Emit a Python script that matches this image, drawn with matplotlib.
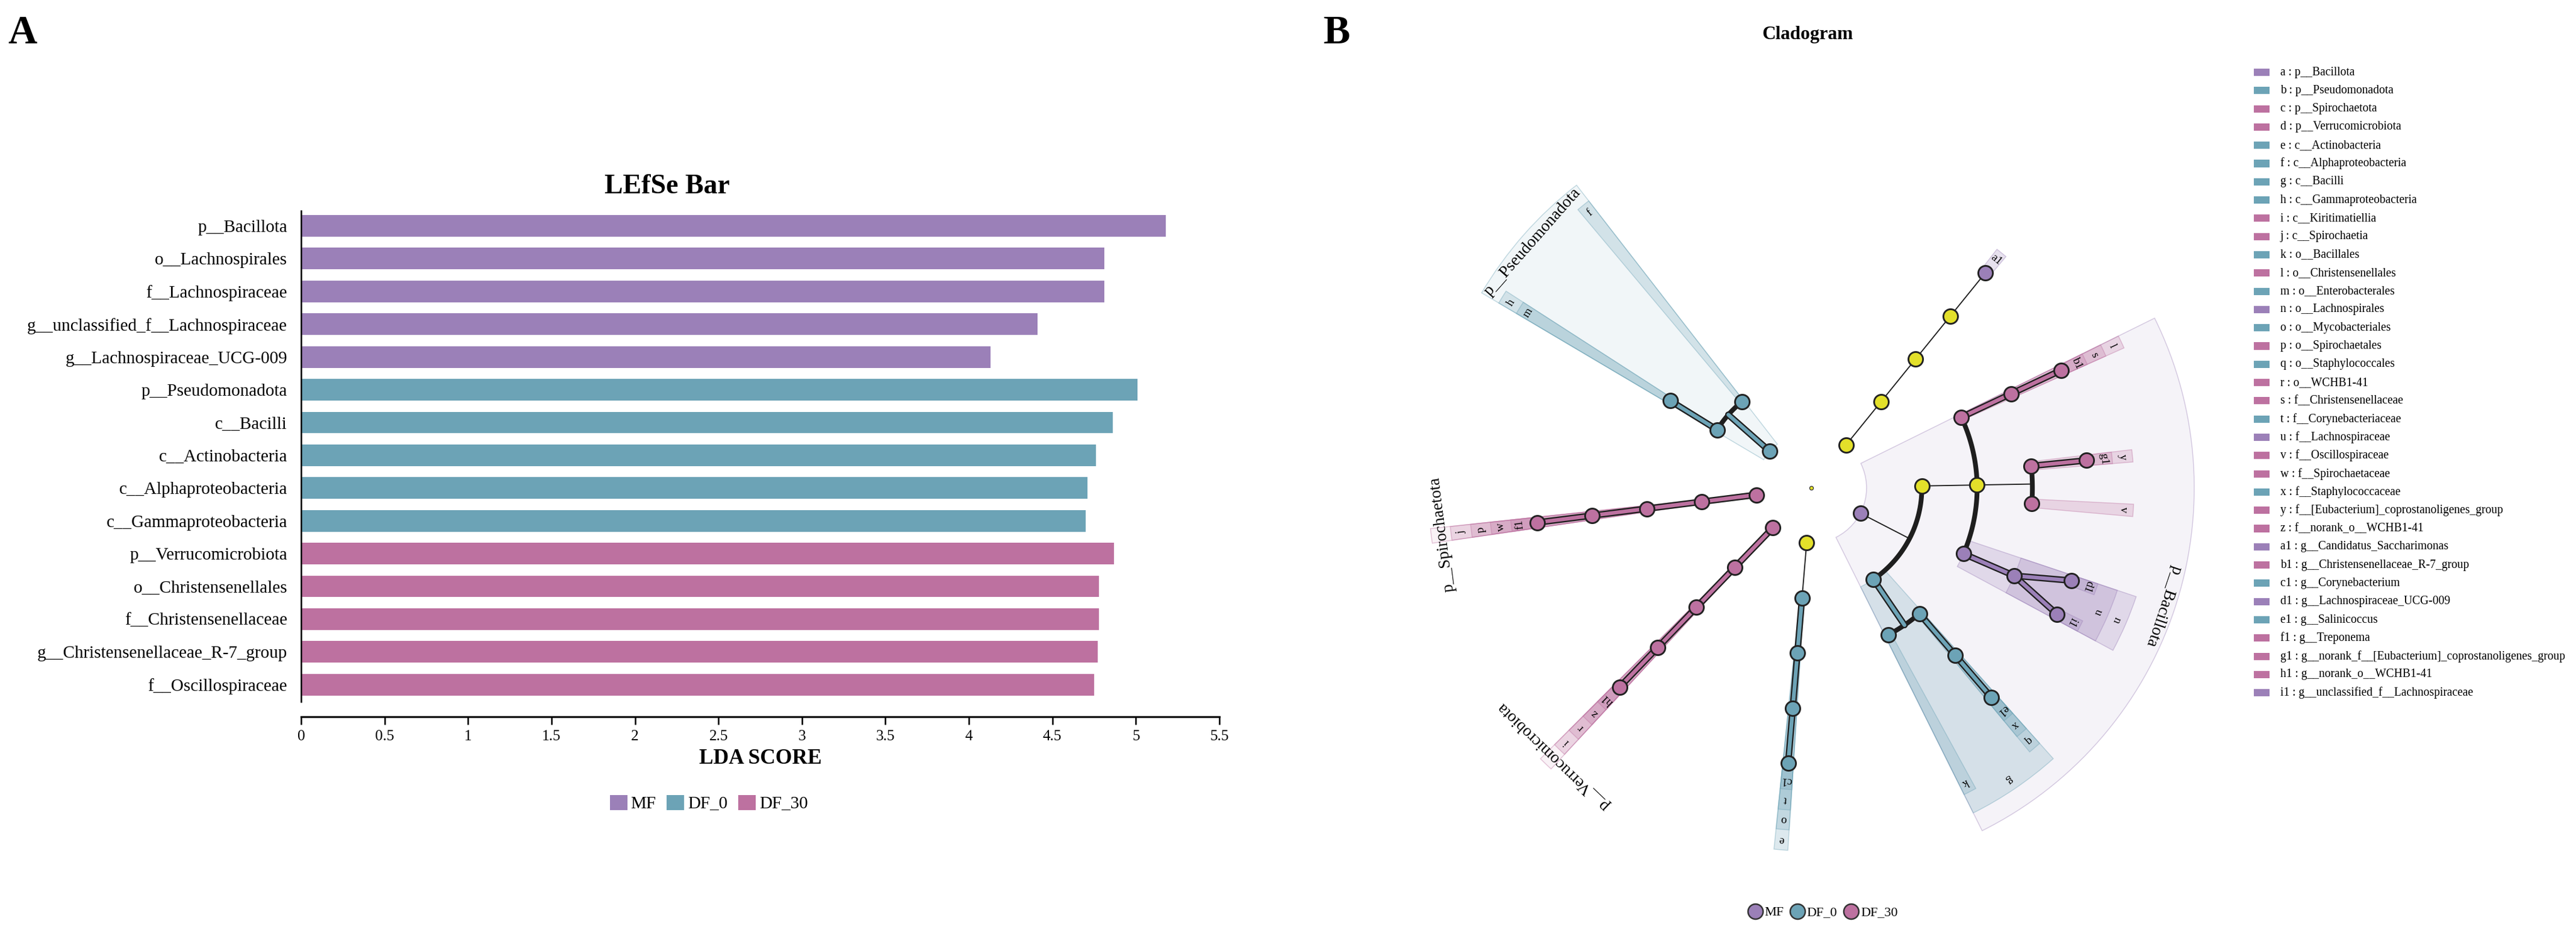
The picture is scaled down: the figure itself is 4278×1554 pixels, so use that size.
import numpy as np
import matplotlib
matplotlib.use("Agg")
import matplotlib.pyplot as plt
from matplotlib.patches import Patch
from matplotlib.lines import Line2D

plt.rcParams['font.family'] = ['Liberation Serif', 'DejaVu Serif']

# ---------------- data ----------------
groups = ['MF', 'DF_0', 'DF_30']
group_colors = {'MF': '#9B80B8', 'DF_0': '#6CA3B6', 'DF_30': '#BD71A0'}
YELLOW = '#E3E02A'
EDGE = '#1E1E1E'

bar_labels = ['p__Bacillota', 'o__Lachnospirales', 'f__Lachnospiraceae',
              'g__unclassified_f__Lachnospiraceae', 'g__Lachnospiraceae_UCG-009',
              'p__Pseudomonadota', 'c__Bacilli', 'c__Actinobacteria',
              'c__Alphaproteobacteria', 'c__Gammaproteobacteria',
              'p__Verrucomicrobiota', 'o__Christensenellales', 'f__Christensenellaceae',
              'g__Christensenellaceae_R-7_group', 'f__Oscillospiraceae']
bar_values = [5.18, 4.81, 4.81, 4.41, 4.13,
              5.01, 4.86, 4.76, 4.71, 4.70,
              4.87, 4.78, 4.78, 4.77, 4.75]
bar_groups = ['MF'] * 5 + ['DF_0'] * 5 + ['DF_30'] * 5
x_ticks = [0, 0.5, 1, 1.5, 2, 2.5, 3, 3.5, 4, 4.5, 5, 5.5]
x_tick_labels = ['0', '0.5', '1', '1.5', '2', '2.5', '3', '3.5', '4', '4.5', '5', '5.5']

# cladogram legend (letter : taxon, group)
clad_letters = ['a', 'b', 'c', 'd', 'e', 'f', 'g', 'h', 'i', 'j', 'k', 'l', 'm', 'n', 'o',
                'p', 'q', 'r', 's', 't', 'u', 'v', 'w', 'x', 'y', 'z',
                'a1', 'b1', 'c1', 'd1', 'e1', 'f1', 'g1', 'h1', 'i1']
clad_taxa = ['p__Bacillota', 'p__Pseudomonadota', 'p__Spirochaetota', 'p__Verrucomicrobiota',
             'c__Actinobacteria', 'c__Alphaproteobacteria', 'c__Bacilli', 'c__Gammaproteobacteria',
             'c__Kiritimatiellia', 'c__Spirochaetia', 'o__Bacillales', 'o__Christensenellales',
             'o__Enterobacterales', 'o__Lachnospirales', 'o__Mycobacteriales', 'o__Spirochaetales',
             'o__Staphylococcales', 'o__WCHB1-41', 'f__Christensenellaceae', 'f__Corynebacteriaceae',
             'f__Lachnospiraceae', 'f__Oscillospiraceae', 'f__Spirochaetaceae', 'f__Staphylococcaceae',
             'f__[Eubacterium]_coprostanoligenes_group', 'f__norank_o__WCHB1-41',
             'g__Candidatus_Saccharimonas', 'g__Christensenellaceae_R-7_group', 'g__Corynebacterium',
             'g__Lachnospiraceae_UCG-009', 'g__Salinicoccus', 'g__Treponema',
             'g__norank_f__[Eubacterium]_coprostanoligenes_group', 'g__norank_o__WCHB1-41',
             'g__unclassified_f__Lachnospiraceae']
clad_groups = ['MF', 'DF_0', 'DF_30', 'DF_30', 'DF_0', 'DF_0', 'DF_0', 'DF_0', 'DF_30', 'DF_30',
               'DF_0', 'DF_30', 'DF_0', 'MF', 'DF_0', 'DF_30', 'DF_0', 'DF_30', 'DF_30', 'DF_0',
               'MF', 'DF_30', 'DF_30', 'DF_0', 'DF_30', 'DF_30', 'MF', 'DF_30', 'DF_0', 'MF',
               'DF_0', 'DF_30', 'DF_30', 'DF_30', 'MF']

# cladogram tree: node id, parent, level (1=phylum ... 5=genus), angle (deg)
node_ids = ['P1', 'P2', 'P3', 'P4', 'a1',
            'a', 'C1', 'l', 's', 'b1', 'O1', 'y', 'g1', 'v', 'n', 'u', 'd1', 'i1',
            'g', 'k', 'q', 'x', 'e1',
            'A1', 'e', 'o', 't', 'c1',
            'd', 'i', 'r', 'z', 'h1',
            'c', 'j', 'p', 'w', 'f1',
            'b', 'h', 'm', 'f']
node_parent = [None, 'P1', 'P2', 'P3', 'P4',
               None, 'a', 'C1', 'l', 's', 'C1', 'O1', 'y', 'O1', 'C1', 'n', 'u', 'u',
               'a', 'g', 'g', 'q', 'x',
               None, 'A1', 'e', 'o', 't',
               None, 'd', 'i', 'r', 'z',
               None, 'c', 'j', 'p', 'w',
               None, 'b', 'h', 'b']
node_level = [1, 2, 3, 4, 5,
              1, 2, 3, 4, 5, 3, 4, 5, 4, 3, 4, 5, 5,
              2, 3, 3, 4, 5,
              1, 2, 3, 4, 5,
              1, 2, 3, 4, 5,
              1, 2, 3, 4, 5,
              1, 2, 3, 2]
node_angle = [51.0, 51.0, 51.0, 51.0, 51.0,
              -27.3, 1.0, 25.2, 25.2, 25.2, 1.0, 5.7, 5.7, -4.0, -23.4, -23.4, -19.6, -27.2,
              -55.8, -62.4, -49.3, -49.3, -49.3,
              -94.8, -94.8, -94.8, -94.8, -94.8,
              -133.9, -133.9, -133.9, -133.9, -133.9,
              -172.8, -172.8, -172.8, -172.8, -172.8,
              138.6, 148.3, 148.3, 128.9]

# ---------------- figure ----------------
W, H, DPI = 4278, 1554, 300
fig = plt.figure(figsize=(W / DPI, H / DPI), dpi=DPI, facecolor='white')


def fx(px):
    return px / W


def fy(py):
    return 1 - py / H


# ---------- Panel A: LEfSe bar ----------
ax = fig.add_axes([fx(500), fy(1165), fx(2025) - fx(500), fy(350) - fy(1165)])
for side in ['top', 'right']:
    ax.spines[side].set_visible(False)
ax.spines['bottom'].set_position(('outward', 6))
ax.spines['left'].set_linewidth(0.6)
ax.spines['bottom'].set_linewidth(0.75)

ypos = np.arange(len(bar_labels))
ax.barh(ypos, bar_values, height=0.66, color=[group_colors[g] for g in bar_groups], zorder=2)
ax.set_xlim(0, 5.5)
ax.set_ylim(len(bar_labels) - 0.48, -0.46)
ax.set_yticks(ypos)
ax.set_yticklabels(bar_labels)
ax.set_xticks(x_ticks)
ax.set_xticklabels(x_tick_labels)
ax.tick_params(axis='y', length=0, pad=5.5, labelsize=7)
ax.tick_params(axis='x', length=3.1, width=0.6, pad=2.2, labelsize=6.1)
ax.set_xlabel('LDA SCORE', fontsize=8.5, fontweight='bold')
ax.xaxis.set_label_coords(0.5, -(1260 - 1165) / 815)
ax.xaxis.label.set_va('center')

fig.text(fx(1108), fy(310), 'LEfSe Bar', fontsize=11, fontweight='bold', ha='center', va='center')
fig.text(fx(13), fy(72), 'A', fontsize=16, fontweight='bold', ha='left', va='baseline')
fig.text(fx(2198), fy(72), 'B', fontsize=16, fontweight='bold', ha='left', va='baseline')

bar_handles = [Patch(facecolor=group_colors[g], label=g) for g in groups]
fig.legend(handles=bar_handles, loc='center', bbox_to_anchor=(fx(1177), fy(1334)), ncol=3,
           frameon=False, fontsize=7, handlelength=1.0, handleheight=0.95,
           handletextpad=0.2, columnspacing=0.6, borderpad=0)

# ---------- Panel B: cladogram ----------
CX, CY, RMAX = 3008, 810, 700
axc = fig.add_axes([fx(CX - RMAX), fy(CY + RMAX), 2 * RMAX / W, 2 * RMAX / H], projection='polar')
axc.set_theta_zero_location('E')
axc.set_theta_direction(1)
axc.set_ylim(0, RMAX)
axc.axis('off')
axc.patch.set_alpha(0)

LEVEL_STEP = 91.8
ring_outer = {1: 636, 2: 603, 3: 569, 4: 536, 5: 502}
DELTA = 1.1

idx = {nid: i for i, nid in enumerate(node_ids)}
children = {nid: [] for nid in node_ids}
for nid, par in zip(node_ids, node_parent):
    if par is not None:
        children[par].append(nid)
letter_group = dict(zip(clad_letters, clad_groups))
letter_taxon = dict(zip(clad_letters, clad_taxa))


def grp(nid):
    return letter_group.get(nid)


def col(nid):
    g = grp(nid)
    return group_colors[g] if g else YELLOW


def rad(nid):
    return node_level[idx[nid]] * LEVEL_STEP


def ang(nid):
    return node_angle[idx[nid]]


def leaf_range(nid):
    ch = children[nid]
    if not ch:
        return ang(nid), ang(nid)
    rr = [leaf_range(c) for c in ch]
    return min(r[0] for r in rr), max(r[1] for r in rr)


def seg(t1, r1, t2, r2, n=40):
    a1, a2 = np.deg2rad(t1), np.deg2rad(t2)
    xs = np.linspace(r1 * np.cos(a1), r2 * np.cos(a2), n)
    ys = np.linspace(r1 * np.sin(a1), r2 * np.sin(a2), n)
    return np.unwrap(np.arctan2(ys, xs)), np.hypot(xs, ys)


def thick(path, c):
    axc.plot(path[0], path[1], color=EDGE, lw=2.6, solid_capstyle='round', zorder=3)
    axc.plot(path[0], path[1], color=c, lw=1.5, solid_capstyle='round', zorder=3.1)


def thin(path):
    axc.plot(path[0], path[1], color=EDGE, lw=0.45, zorder=2.4)


# shaded clades and labels
for nid in node_ids:
    g = grp(nid)
    if g is None:
        continue
    L = node_level[idx[nid]]
    lo, hi = leaf_range(nid)
    lo, hi = lo - DELTA, hi + DELTA
    bottom = rad(nid)
    alpha = 0.09 if L == 1 else 0.23
    c = group_colors[g]
    axc.bar(np.deg2rad((lo + hi) / 2), ring_outer[L] - bottom, width=np.deg2rad(hi - lo),
            bottom=bottom, color=matplotlib.colors.to_rgba(c, alpha),
            edgecolor=matplotlib.colors.to_rgba(c, 0.4), linewidth=0.35, zorder=1)
    mid = (lo + hi) / 2
    if L == 1:
        r_lab = (ring_outer[1] + ring_outer[2]) / 2 - 2
        txt, fs = letter_taxon[nid], 6.6
    elif L == 5:
        r_lab = (ring_outer[5] + rad(nid) + 14) / 2
        txt, fs = nid, 4.6
    else:
        r_lab = (ring_outer[L] + ring_outer[L + 1]) / 2
        txt, fs = nid, 4.6
    axc.text(np.deg2rad(mid), r_lab, txt, fontsize=fs, rotation=mid - 90,
             rotation_mode='anchor', ha='center', va='center', zorder=6)

# edges
for p in node_ids:
    ch = children[p]
    if not ch:
        continue
    gp = grp(p)
    if len(ch) == 1:
        c = ch[0]
        path = seg(ang(p), rad(p), ang(c), rad(c))
        if gp and gp == grp(c):
            thick(path, col(p))
        else:
            thin(path)
    elif node_level[idx[p]] >= 4:
        for c in ch:
            path = seg(ang(p), rad(p), ang(c), rad(c))
            if gp and gp == grp(c):
                thick(path, col(p))
            else:
                thin(path)
    else:
        rc = rad(ch[0])
        path = seg(ang(p), rad(p), ang(p), rc)
        if gp and all(grp(c) == gp for c in ch):
            thick(path, col(p))
        else:
            thin(path)
        angs = [ang(c) for c in ch]
        th = np.deg2rad(np.linspace(min(angs), max(angs), 80))
        axc.plot(th, np.full_like(th, rc), color=EDGE, lw=1.9, solid_capstyle='round', zorder=2.6)

# nodes
for nid in node_ids:
    axc.plot(np.deg2rad(ang(nid)), rad(nid), 'o', ms=5.8, mfc=col(nid), mec='#222222',
             mew=0.7, zorder=5)
axc.plot(0, 0, 'o', ms=1.5, mfc=YELLOW, mec='#333333', mew=0.3, zorder=5)

fig.text(fx(3002), fy(58), 'Cladogram', fontsize=7.5, fontweight='bold', ha='center', va='center')

clad_handles = [Line2D([], [], ls='none', marker='o', ms=6, mfc=group_colors[g], mec='#333333',
                       mew=0.6, label=g) for g in groups]
fig.legend(handles=clad_handles, loc='center', bbox_to_anchor=(fx(3027), fy(1515)), ncol=3,
           frameon=False, fontsize=5.3, handlelength=1.1, handletextpad=0.15,
           columnspacing=0.5, borderpad=0)

# right-side letter legend
n_ent = len(clad_letters)
axl = fig.add_axes([fx(3735), fy(120 + (n_ent - 0.5) * 30.3), fx(4278) - fx(3735), (n_ent * 30.3) / H])
axl.set_xlim(3735, 4278)
axl.set_ylim(n_ent - 0.5, -0.5)
axl.axis('off')
ent = np.arange(n_ent)
axl.barh(ent, 26, left=3743, height=0.4, color=[group_colors[g] for g in clad_groups])
for i, (lt, tx) in enumerate(zip(clad_letters, clad_taxa)):
    axl.text(3787, i, f'{lt} : {tx}', fontsize=4.7, va='center', ha='left')

fig.savefig('out.png', dpi=DPI, facecolor='white')
